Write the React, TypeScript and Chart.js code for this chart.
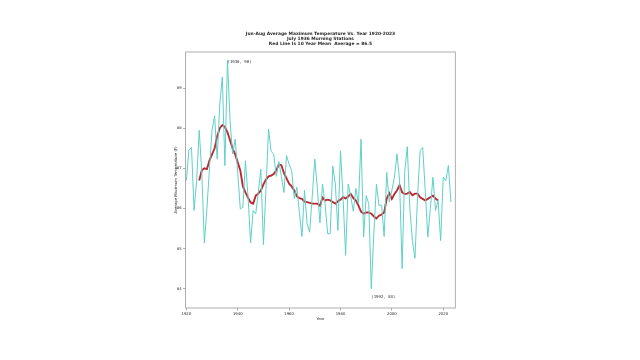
import { useEffect, useRef } from "react";
import { Chart, registerables } from "chart.js";
Chart.register(...registerables);

const years = [
  1920, 1921, 1922, 1923, 1924, 1925, 1926, 1927, 1928, 1929,
  1930, 1931, 1932, 1933, 1934, 1935, 1936, 1937, 1938, 1939,
  1940, 1941, 1942, 1943, 1944, 1945, 1946, 1947, 1948, 1949,
  1950, 1951, 1952, 1953, 1954, 1955, 1956, 1957, 1958, 1959,
  1960, 1961, 1962, 1963, 1964, 1965, 1966, 1967, 1968, 1969,
  1970, 1971, 1972, 1973, 1974, 1975, 1976, 1977, 1978, 1979,
  1980, 1981, 1982, 1983, 1984, 1985, 1986, 1987, 1988, 1989,
  1990, 1991, 1992, 1993, 1994, 1995, 1996, 1997, 1998, 1999,
  2000, 2001, 2002, 2003, 2004, 2005, 2006, 2007, 2008, 2009,
  2010, 2011, 2012, 2013, 2014, 2015, 2016, 2017, 2018, 2019,
  2020, 2021, 2022, 2023,
];

const avgMaxTemp = [
  86.7, 87.46, 87.52, 85.95, 86.7, 87.95, 86.9, 85.14, 86.0, 87.0,
  87.95, 88.31, 87.23, 88.6, 89.28, 87.07, 89.7, 88.2, 87.36, 87.73,
  86.9, 85.99, 86.03, 87.19, 86.3, 85.14, 85.95, 85.87, 86.4, 86.98,
  85.1, 86.5, 87.98, 87.42, 87.36, 86.8, 87.17, 86.8, 86.4, 87.32,
  87.1, 86.94, 86.25, 86.53, 85.9, 85.3, 86.45, 85.62, 85.41, 86.3,
  87.23, 86.5, 85.64, 86.61, 86.12, 85.37, 85.37, 87.06, 86.61, 85.45,
  87.44, 86.28, 84.83, 86.61, 86.3, 85.93, 86.5, 86.12, 87.73, 85.29,
  86.32, 86.12, 84.0, 85.4, 86.6, 86.08, 86.08, 85.3, 86.9, 86.16,
  86.45, 86.78, 87.36, 86.7, 84.5, 86.9, 87.54, 86.0, 85.2, 84.76,
  86.3, 87.44, 87.52, 86.45, 85.29, 86.0, 86.78, 85.95, 86.2, 85.2,
  86.78, 86.69, 87.07, 86.16,
];

const meanYears = [
  1925, 1926, 1927, 1928, 1929, 1930, 1931, 1932, 1933, 1934,
  1935, 1936, 1937, 1938, 1939, 1940, 1941, 1942, 1943, 1944,
  1945, 1946, 1947, 1948, 1949, 1950, 1951, 1952, 1953, 1954,
  1955, 1956, 1957, 1958, 1959, 1960, 1961, 1962, 1963, 1964,
  1965, 1966, 1967, 1968, 1969, 1970, 1971, 1972, 1973, 1974,
  1975, 1976, 1977, 1978, 1979, 1980, 1981, 1982, 1983, 1984,
  1985, 1986, 1987, 1988, 1989, 1990, 1991, 1992, 1993, 1994,
  1995, 1996, 1997, 1998, 1999, 2000, 2001, 2002, 2003, 2004,
  2005, 2006, 2007, 2008, 2009, 2010, 2011, 2012, 2013, 2014,
  2015, 2016, 2017, 2018,
];

const tenYearMean = [
  86.7, 86.95, 87.0, 86.98, 87.2, 87.35, 87.5, 87.8, 88.0, 88.08,
  88.03, 87.9, 87.7, 87.5, 87.35, 87.15, 86.95, 86.55, 86.4, 86.27,
  86.15, 86.12, 86.32, 86.37, 86.45, 86.6, 86.72, 86.8, 86.82, 86.86,
  86.95, 87.1, 87.08, 86.88, 86.75, 86.62, 86.55, 86.45, 86.3, 86.26,
  86.24, 86.17, 86.16, 86.14, 86.12, 86.12, 86.12, 86.07, 86.27, 86.2,
  86.22, 86.2, 86.16, 86.12, 86.18, 86.22, 86.28, 86.25, 86.3, 86.36,
  86.26, 86.2, 86.07, 85.92, 85.87, 85.9, 85.9, 85.87, 85.8, 85.75,
  85.82, 85.85, 85.9, 86.25, 86.38, 86.24, 86.36, 86.45, 86.58, 86.4,
  86.36, 86.37, 86.41, 86.33, 86.37, 86.37, 86.28, 86.24, 86.2, 86.24,
  86.28, 86.32, 86.25, 86.2,
];

const xTickValues = [1920, 1940, 1960, 1980, 2000, 2020];
const yTickValues = [84, 85, 86, 87, 88, 89];

const titleLines = [
  "Jun-Aug Average Maximum Temperature Vs. Year 1920-2023",
  "July 1936 Morning Stations",
  "Red Line Is 10 Year Mean  Average = 86.5",
];
const xTitle = "Year";
const yTitle = "Average Maximum Temperature (F)";
const annotations = [
  { x: 1936, y: 89.7, label: "(1936, 90)", dy: 1.5 },
  { x: 1992, y: 84.0, label: "(1992, 84)", dy: 8 },
];

const textColor = "#2a2a2a";
const frameColor = "#9a9a9a";

const decorPlugin = {
  id: "decor",
  afterDraw(chart: any) {
    const { ctx, chartArea } = chart;
    const xs = chart.scales.x;
    const ys = chart.scales.y;
    ctx.save();
    ctx.strokeStyle = frameColor;
    ctx.lineWidth = 0.8;
    ctx.strokeRect(chartArea.left, chartArea.top, chartArea.right - chartArea.left, chartArea.bottom - chartArea.top);
    const cx = (chartArea.left + chartArea.right) / 2;
    const cy = (chartArea.top + chartArea.bottom) / 2;
    ctx.fillStyle = textColor;
    ctx.textAlign = "center";
    ctx.textBaseline = "middle";
    ctx.font = "bold 4.4px 'DejaVu Sans'";
    const ty = [34.3, 39.2, 43.8];
    titleLines.forEach((t, i) => ctx.fillText(t, cx, ty[i]));
    ctx.font = "3.8px 'DejaVu Sans'";
    ctx.fillText(xTitle, cx, 319.5);
    ctx.save();
    ctx.translate(176, cy);
    ctx.rotate(-Math.PI / 2);
    ctx.fillText(yTitle, 0, 0);
    ctx.restore();
    ctx.font = "4px 'DejaVu Sans Mono'";
    ctx.textAlign = "left";
    annotations.forEach((a) => {
      ctx.fillText(a.label, xs.getPixelForValue(a.x), ys.getPixelForValue(a.y) + a.dy);
    });
    ctx.restore();
  },
};

export default function App() {
  const ref = useRef<HTMLCanvasElement>(null);
  useEffect(() => {
    if (!ref.current) return;
    const chart = new Chart(ref.current, {
      type: "line",
      data: {
        datasets: [
          {
            data: years.map((y, i) => ({ x: y, y: avgMaxTemp[i] })),
            borderColor: "#5fd0c7",
            borderWidth: 1,
            pointRadius: 0,
            tension: 0,
          },
          {
            data: meanYears.map((y, i) => ({ x: y, y: tenYearMean[i] })),
            borderColor: "#c0282d",
            borderWidth: 1.9,
            pointRadius: 0,
            tension: 0,
          },
        ],
      },
      options: {
        animation: false,
        responsive: false,
        events: [],
        layout: { padding: { left: 0, right: 184.7, top: 52, bottom: 0 } },
        plugins: { legend: { display: false }, tooltip: { enabled: false }, title: { display: false } },
        scales: {
          x: {
            type: "linear",
            min: 1919.7,
            max: 2024.7,
            afterBuildTicks: (s: any) => { s.ticks = xTickValues.map((v) => ({ value: v })); },
            afterFit: (s: any) => { s.height = 52; },
            grid: { display: true, drawOnChartArea: false, drawTicks: true, tickLength: 2.5, color: frameColor, lineWidth: 0.8 },
            border: { display: false },
            ticks: {
              color: textColor,
              font: { family: "DejaVu Sans", size: 3.8 },
              padding: 1.5,
              maxRotation: 0,
              autoSkip: false,
              callback: (v: any) => String(v),
            },
          },
          y: {
            type: "linear",
            min: 83.52,
            max: 89.9,
            afterBuildTicks: (s: any) => { s.ticks = yTickValues.map((v) => ({ value: v })); },
            afterFit: (s: any) => { s.width = 185.6; },
            grid: { display: true, drawOnChartArea: false, drawTicks: true, tickLength: 2.5, color: frameColor, lineWidth: 0.8 },
            border: { display: false },
            ticks: {
              color: textColor,
              font: { family: "DejaVu Sans", size: 3.8 },
              padding: 1.5,
              autoSkip: false,
              callback: (v: any) => String(v),
            },
          },
        },
      },
      plugins: [decorPlugin],
    } as any);
    return () => chart.destroy();
  }, []);
  return (
    <div style={{ position: "fixed", left: 0, top: 0, width: 640, height: 360, background: "#fff" }}>
      <canvas ref={ref} width={640} height={360} style={{ width: 640, height: 360, display: "block" }} />
    </div>
  );
}
